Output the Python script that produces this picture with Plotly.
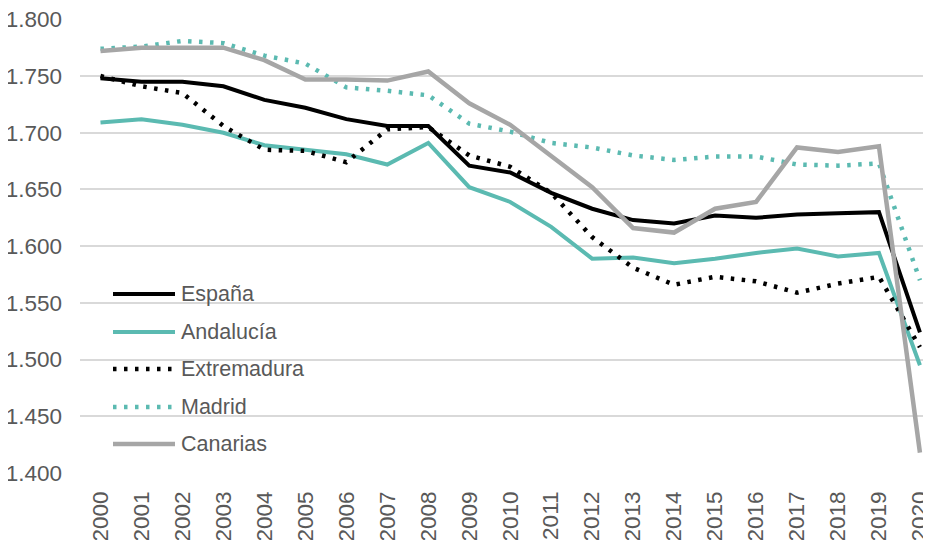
import plotly.graph_objects as go

years = [str(y) for y in range(2000, 2021)]

espana = [1.748, 1.745, 1.745, 1.741, 1.729, 1.722, 1.712, 1.706, 1.706, 1.671, 1.665,
          1.647, 1.633, 1.623, 1.620, 1.627, 1.625, 1.628, 1.629, 1.630, 1.524]
andalucia = [1.709, 1.712, 1.707, 1.700, 1.689, 1.685, 1.681, 1.672, 1.691, 1.652, 1.639,
             1.617, 1.589, 1.590, 1.585, 1.589, 1.594, 1.598, 1.591, 1.594, 1.495]
extremadura = [1.750, 1.741, 1.735, 1.706, 1.685, 1.684, 1.674, 1.703, 1.705, 1.680, 1.670,
               1.647, 1.608, 1.581, 1.566, 1.573, 1.569, 1.559, 1.567, 1.573, 1.511]
madrid = [1.774, 1.776, 1.781, 1.779, 1.768, 1.761, 1.740, 1.737, 1.733, 1.708, 1.701,
          1.691, 1.687, 1.680, 1.676, 1.679, 1.679, 1.672, 1.671, 1.673, 1.570]
canarias = [1.772, 1.775, 1.775, 1.775, 1.764, 1.747, 1.747, 1.746, 1.754, 1.726, 1.707,
            1.680, 1.652, 1.616, 1.612, 1.633, 1.639, 1.687, 1.683, 1.688, 1.418]

ytick_vals = [1.40, 1.45, 1.50, 1.55, 1.60, 1.65, 1.70, 1.75, 1.80]
ytick_text = ["1.400", "1.450", "1.500", "1.550", "1.600", "1.650", "1.700", "1.750", "1.800"]

TEAL = "#5BBAB1"
GRAY = "#A6A6A6"
BLACK = "#000000"
DOT = "3.5px,7.5px"
FONT = "Liberation Sans, Arial"
TXT = "#595959"

series = [
    ("España", espana, BLACK, 4, "solid"),
    ("Andalucía", andalucia, TEAL, 4, "solid"),
    ("Extremadura", extremadura, BLACK, 4.5, DOT),
    ("Madrid", madrid, TEAL, 4.5, DOT),
    ("Canarias", canarias, GRAY, 4.5, "solid"),
]

fig = go.Figure()
for name, vals, color, w, dash in series:
    fig.add_trace(go.Scatter(
        x=list(range(len(years))), y=vals, mode="lines", name=name,
        line=dict(color=color, width=w, dash=dash), showlegend=False,
    ))

# The page body has an 8px margin, so the figure is 8px smaller and margins compensate.
OFF = 8
L, R, T, B = 80, 931, 19, 473  # plot area in page pixels
def px(x):
    return (x - L) / (R - L)
def py(y):
    return (B - y) / (B - T)

rows = [294, 332, 369, 407, 444]
shapes = []
annotations = []
for (name, vals, color, w, dash), ry in zip(series, rows):
    shapes.append(dict(type="line", xref="paper", yref="paper",
                       x0=px(113), x1=px(175), y0=py(ry), y1=py(ry),
                       line=dict(color=color, width=w, dash=dash)))
    annotations.append(dict(xref="paper", yref="paper", x=px(179), y=py(ry),
                            text=name, showarrow=False, xanchor="left", yanchor="middle",
                            font=dict(size=21.5, color=TXT, family=FONT)))

W, H = 931 - OFF, 540 - OFF
fig.update_layout(
    width=W, height=H,
    margin=dict(l=L - OFF, r=0, t=T - OFF, b=H - (B - OFF), autoexpand=False),
    paper_bgcolor="white", plot_bgcolor="white",
    font=dict(family=FONT, size=22, color=TXT),
    shapes=shapes, annotations=annotations,
    showlegend=False,
    xaxis=dict(
        range=[-0.5, 20.27], tickmode="array", tickvals=list(range(len(years))),
        ticktext=years, tickangle=-90, showgrid=False, zeroline=False,
        showline=False, ticks="", ticklabelstandoff=13, automargin=False,
        ticklabeloverflow="allow",
        tickfont=dict(size=22.5, color=TXT, family=FONT),
    ),
    yaxis=dict(
        range=[1.4, 1.8003], tickmode="array", tickvals=ytick_vals, ticktext=ytick_text,
        showgrid=True, gridcolor="#D9D9D9", gridwidth=1.5, zeroline=False,
        showline=False, ticks="", ticklabelstandoff=17, automargin=False,
        ticklabeloverflow="allow",
        tickfont=dict(size=22.5, color=TXT, family=FONT),
    ),
)

fig.write_html("out.html")
